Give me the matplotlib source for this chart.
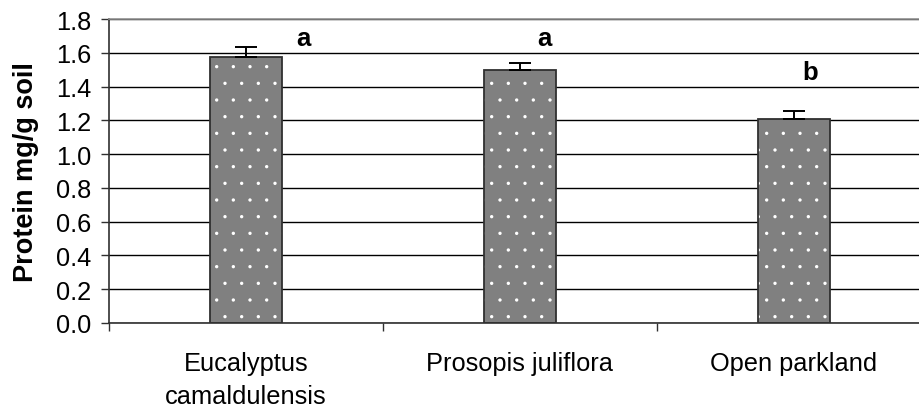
import numpy as np
import matplotlib.pyplot as plt

# protein content under the three land covers
sites = ["Eucalyptus\ncamaldulensis", "Prosopis juliflora", "Open parkland"]
protein = [1.575, 1.50, 1.21]
se = [0.06, 0.04, 0.045]
letters = ["a", "a", "b"]

# where the significance letters sit (x offset from bar centre, y in data units)
letter_dx = [0.21, 0.09, 0.06]
letter_y = [1.645, 1.645, 1.445]

plt.rcParams['font.family'] = ['Liberation Sans', 'DejaVu Sans']
plt.rcParams['hatch.linewidth'] = 0.0

fig = plt.figure(figsize=(9.2, 4.1), dpi=100)
ax = fig.add_axes([109 / 920, 86 / 410, 822 / 920, 304 / 410])

x = np.arange(len(sites))
# grey bars with white dots, then a dark outline on top
ax.bar(x, protein, width=0.26, color='#808080', edgecolor='white',
       hatch='.', linewidth=0, zorder=2)
ax.bar(x, protein, width=0.26, fill=False, edgecolor='#303030',
       linewidth=1.3, zorder=3)
ax.errorbar(x, protein, yerr=[np.zeros(len(se)), se], fmt='none',
            ecolor='black', elinewidth=1.4, capsize=8, capthick=1.4, zorder=4)

for i, t in enumerate(letters):
    ax.text(x[i] + letter_dx[i], letter_y[i], t, ha='center', va='baseline',
            fontsize=18.5, fontweight='bold')

ax.set_xlim(-0.5, 2.5)
ax.set_ylim(0, 1.8)
ax.set_yticks(np.arange(0, 1.81, 0.2))
ax.set_yticklabels([f"{v:.1f}" for v in np.arange(0, 1.81, 0.2)], fontsize=18.3)
ax.set_xticks(x)
ax.set_xticklabels(sites, fontsize=18.3, linespacing=1.5)
ax.set_xticks([-0.5, 0.5, 1.5, 2.5], minor=True)
ax.tick_params(axis='x', which='major', length=0, pad=20)
ax.tick_params(axis='x', which='minor', length=6, width=1, color='#303030')
ax.tick_params(axis='y', length=6, width=1, color='#303030', pad=7)

ax.yaxis.grid(True, color='black', linewidth=1)
ax.set_axisbelow(True)

ax.spines['left'].set_color('#303030')
ax.spines['bottom'].set_color('#303030')
ax.spines['top'].set_color('#909090')
ax.spines['right'].set_visible(False)
for s in ['left', 'bottom', 'top']:
    ax.spines[s].set_linewidth(1.2)

ax.set_ylabel("Protein mg/g soil", fontsize=19.5, fontweight='bold', labelpad=12)

fig.savefig("out.png", dpi=100)
